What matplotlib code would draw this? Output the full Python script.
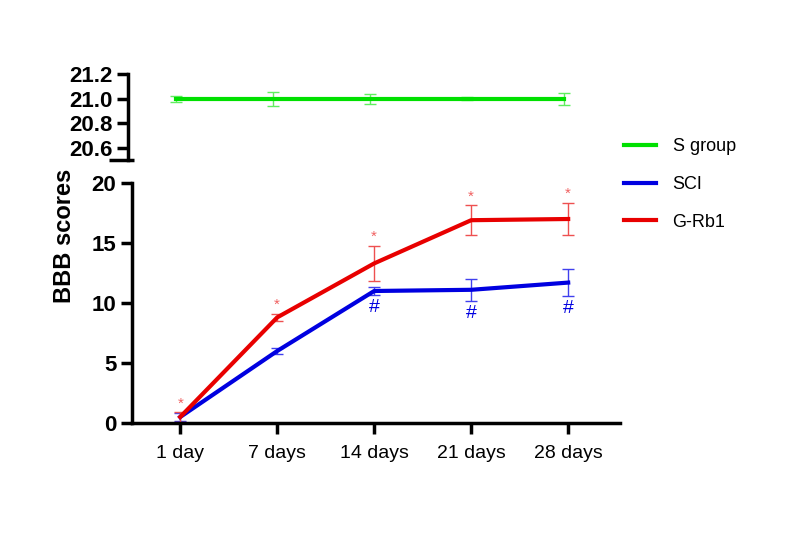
import numpy as np
import matplotlib
matplotlib.use("Agg")
import matplotlib.pyplot as plt
from matplotlib.lines import Line2D

plt.rcParams['font.family'] = ['Liberation Sans', 'DejaVu Sans']

days = ['1 day', '7 days', '14 days', '21 days', '28 days']
sham = [21.0, 21.0, 21.0, 21.0, 21.0]
sham_err = [0.025, 0.057, 0.04, 0.01, 0.05]
sci = [0.5, 6.0, 11.0, 11.1, 11.7]
sci_err = [0.3, 0.25, 0.3, 0.92, 1.1]
rb1 = [0.5, 8.8, 13.3, 16.9, 17.0]
rb1_err = [0.4, 0.3, 1.47, 1.25, 1.36]
star_idx = [0, 1, 2, 3, 4]
hash_idx = [2, 3, 4]

green = '#00e000'
blue = '#0000e0'
red = '#e80000'

fig = plt.figure(figsize=(7.87, 5.40), dpi=100)
ax_top = fig.add_axes([0.163, 0.7037, 0.62, 0.159])
ax = fig.add_axes([0.168, 0.2167, 0.62, 0.4444])

x = np.arange(len(days))
xl = (-0.495, 4.536)

ax_top.errorbar(x, sham, yerr=sham_err, color=green, lw=3, elinewidth=1,
                capsize=4, capthick=1, ecolor='#60ee60')
ax_top.set_ylim(20.5, 21.2)
ax_top.set_yticks([20.6, 20.8, 21.0, 21.2])
ax_top.set_xlim(*xl)
ax_top.set_xticks([])
for s in ['top', 'right', 'bottom']:
    ax_top.spines[s].set_visible(False)
ax_top.spines['left'].set_linewidth(2.5)
ax_top.tick_params(axis='y', length=8, width=2.5, labelsize=16)
for lab in ax_top.get_yticklabels():
    lab.set_fontweight('bold')
# break mark at bottom of upper axis
ax_top.plot([-0.04, 0.012], [0, 0], transform=ax_top.transAxes, color='black',
            lw=2.5, clip_on=False, solid_capstyle='butt')

ax.errorbar(x, sci, yerr=sci_err, color=blue, lw=3, elinewidth=1,
            capsize=4, capthick=1, ecolor='#4040ee')
ax.errorbar(x, rb1, yerr=rb1_err, color=red, lw=3, elinewidth=1,
            capsize=4, capthick=1, ecolor='#ee5050')

for i in star_idx:
    ax.text(x[i], rb1[i] + rb1_err[i] + 0.15, '*', color='#f06060',
            ha='center', va='bottom', fontsize=11)
for i in hash_idx:
    ax.text(x[i], sci[i] - sci_err[i] - 0.35, '#', color=blue,
            ha='center', va='top', fontsize=14)

ax.set_ylim(0, 20)
ax.set_yticks([0, 5, 10, 15, 20])
ax.set_xlim(*xl)
ax.set_xticks(x)
ax.set_xticklabels(days, fontsize=14)
for s in ['top', 'right']:
    ax.spines[s].set_visible(False)
ax.spines['left'].set_linewidth(2.5)
ax.spines['bottom'].set_linewidth(2.5)
ax.tick_params(axis='y', length=8, width=2.5, labelsize=16)
ax.tick_params(axis='x', length=8, width=2.5, pad=8)
for lab in ax.get_yticklabels():
    lab.set_fontweight('bold')
ax.set_ylabel('BBB scores', fontsize=17, fontweight='bold')
ax.yaxis.set_label_coords(-0.115, 0.78)

handles = [Line2D([], [], color=green, lw=3),
           Line2D([], [], color=blue, lw=3),
           Line2D([], [], color=red, lw=3)]
labels = ['S group', 'SCI', 'G-Rb1']
fig.legend(handles, labels, loc='upper left', bbox_to_anchor=(0.772, 0.774),
           frameon=False, fontsize=13, handlelength=1.8, labelspacing=1.15,
           handletextpad=0.9)

fig.savefig('out.png', dpi=100)
